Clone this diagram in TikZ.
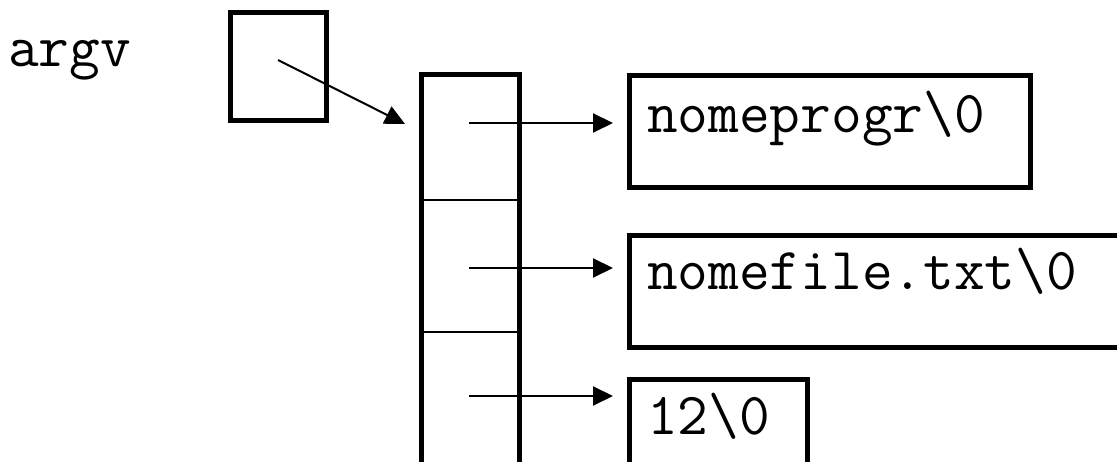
\documentclass[tikz,border=0pt]{standalone}
\usetikzlibrary{arrows.meta}
\tikzset{
  box/.style={draw, line width=5pt, inner sep=0pt},
  cell/.style={draw, line width=2.5pt, inner sep=0pt, minimum width=96pt},
  txt/.style={inner sep=0pt, anchor=base west, font=\ttfamily\fontsize{59.6}{66}\selectfont},
  arr/.style={line width=2pt, -{Triangle[length=20pt,width=19pt]}}
}
\begin{document}
\begin{tikzpicture}[x=1pt,y=-1pt]
\useasboundingbox (0,0) rectangle (1117,462);
\clip (0,0) rectangle (1117,462);
% argv label and pointer box
\node[txt] (argv) at (8,67) {argv};
\node[box, minimum width=96pt, minimum height=108pt] (ab) at (278.5,66.5) {};
% array of pointers
\node[cell, minimum height=124.5pt] (c1) at (470.5,137.75) {};
\node[cell, minimum height=132pt] (c2) at (470.5,266) {};
\node[cell, minimum height=148pt] (c3) at (470.5,406) {};
\draw[line width=5pt] (c3.south west) -- (c1.north west) -- (c1.north east) -- (c3.south east);
% strings
\node[box, minimum width=401pt, minimum height=112pt] (b1) at (830,131.5) {};
\node[box, minimum width=600pt, minimum height=112pt] (b2) at (929.5,291.5) {};
\node[box, minimum width=178pt, minimum height=112pt] (b3) at (718.5,435.5) {};
\node[txt] (t1) at (647,133) {nomeprogr\char`\\0};
\node[txt] (t2) at (647,290) {nomefile.txt\char`\\0};
\node[txt] (t3) at (647,435) {12\char`\\0};
% pointers
\coordinate (a0) at (278,60);
\coordinate (a1) at (405,124);
\coordinate (p1) at (469,123);
\coordinate (p2) at (469,268);
\coordinate (p3) at (469,396);
\draw[arr] (a0) -- (a1);
\draw[arr, shorten >=14pt] (p1) -- (p1 -| b1.west);
\draw[arr, shorten >=14pt] (p2) -- (p2 -| b2.west);
\draw[arr, shorten >=14pt] (p3) -- (p3 -| b3.west);
\end{tikzpicture}
\end{document}
